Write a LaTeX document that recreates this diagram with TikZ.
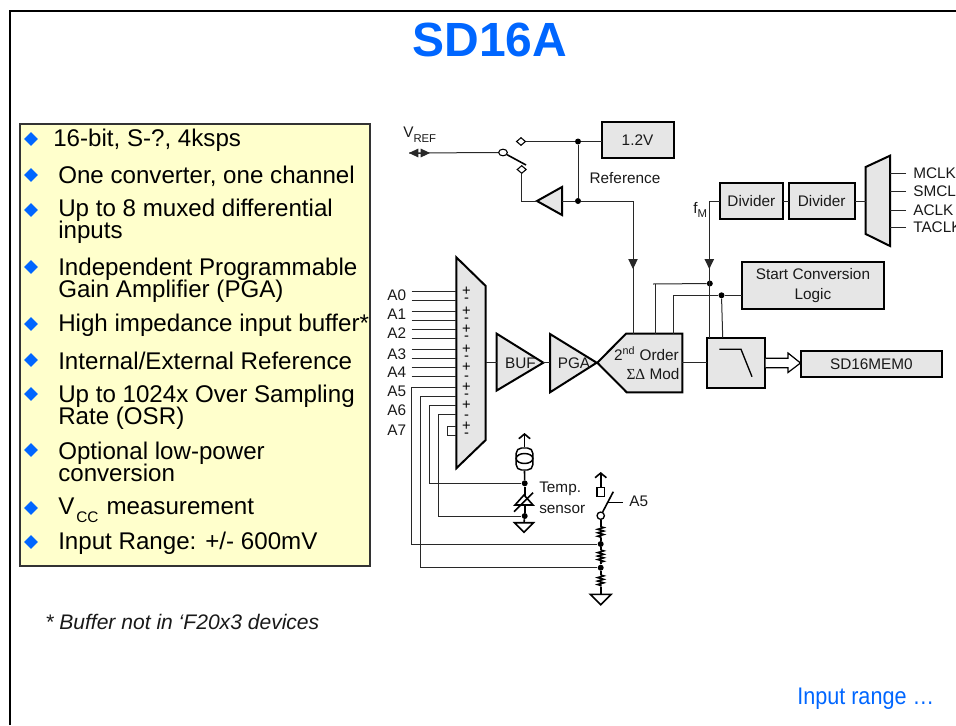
\documentclass[tikz,border=0pt]{standalone}
\usepackage{fontspec}
\setmainfont{Liberation Sans}
\newfontfamily\symfont{Liberation Serif}
\usetikzlibrary{positioning,arrows.meta,shapes.geometric,decorations.pathmorphing}
\definecolor{titleblue}{RGB}{0,102,255}
\definecolor{notecolor}{RGB}{255,255,204}
\definecolor{blockcolor}{RGB}{230,230,230}
\definecolor{wirecolor}{RGB}{40,40,40}
\definecolor{inkcolor}{RGB}{25,25,25}
\def\tightlines{\setlength{\lineskiplimit}{-20pt}}

\begin{document}
\begin{tikzpicture}[
  x=0.75pt,y=-0.75pt,
  wire/.style={line width=0.75pt,draw=wirecolor},
  thickwire/.style={line width=1.2pt,draw=black},
  block/.style={fill=blockcolor,draw=black,line width=1.5pt,outer sep=0pt,inner sep=0pt,align=center,font=\fontsize{11.5}{15}\selectfont,text=inkcolor},
  shapeblock/.style={fill=blockcolor,draw=black,line width=1.5pt,line join=miter},
  labelnode/.style={inner sep=0pt,font=\fontsize{11.5}{15}\selectfont,text=inkcolor},
  signnode/.style={inner sep=0pt,font=\fontsize{11}{11}\selectfont,text=black},
  featnode/.style={inner sep=0pt,anchor=west,align=left,font=\fontsize{18.1}{16.5}\selectfont\tightlines,text=black},
  bulletnode/.style={diamond,aspect=1,fill=titleblue,inner sep=0pt,minimum width=10.5pt,minimum height=10.5pt},
  dotnode/.style={circle,fill=black,inner sep=0pt,minimum size=4.5pt},
  contact/.style={diamond,aspect=1.2,draw=black,fill=white,line width=0.8pt,inner sep=0pt,minimum width=7pt,minimum height=6pt},
  pole/.style={ellipse,draw=black,fill=white,line width=0.8pt,inner sep=0pt,minimum width=6.5pt,minimum height=5pt},
  arr/.style={-{Triangle[length=7.5pt,width=7pt]},wire},
  chevron/.style={-{Straight Barb[length=3.5pt,width=8.5pt]},thickwire},
  res/.style={thickwire,decorate,decoration={zigzag,segment length=2.6pt,amplitude=2.2pt}},
]
\useasboundingbox (0,0) rectangle (956,725);

% Helper macros
\def\subtxt#1{\raisebox{-3.5pt}{\fontsize{8.5}{8.5}\selectfont #1}}
\def\groundsym#1#2#3#4{%
  % #1=name, #2=x, #3=top y, #4=half width
  \coordinate (#1) at (#2,#3);
  \draw[thickwire,fill=white,line join=miter] (#2-#4,#3) -- (#2+#4,#3) -- (#2,#3+#4) -- cycle;
}

% --- FRAME + TITLE ---
\draw[line width=1.6pt] (10,725) -- (10,11) -- (956,11);
\node[inner sep=0pt,font=\fontsize{36}{36}\bfseries\selectfont,text=titleblue] (title) at (490,40) {SD16A};

% --- FEATURE LIST ---
\node[fill=notecolor,draw=black!80,line width=1.4pt,inner sep=0pt,outer sep=0pt,minimum width=262.5pt,minimum height=331.5pt,anchor=north west] (notes) at (20,124) {};
\foreach \n/\y in {1/139,2/175,3/210,4/267,5/324,6/360,7/394,8/450,9/508,10/542} {
  \node[bulletnode] (bull\n) at (31,\y) {};
}
\node[featnode] (feat1) at (53,140) {16-bit, S-?, 4ksps};
\node[featnode] (feat2) at (58,176) {One converter, one channel};
\node[featnode] (feat3) at (58,221.5) {Up to 8 muxed differential\\inputs};
\node[featnode] (feat4) at (58,280) {Independent Programmable\\Gain Amplifier (PGA)};
\node[featnode] (feat5) at (58,325) {High impedance input buffer*};
\node[featnode] (feat6) at (58,361) {Internal/External Reference};
\node[featnode] (feat7) at (58,407) {Up to 1024x Over Sampling\\Rate (OSR)};
\node[featnode] (feat8) at (58,461.5) {Optional low-power\\conversion};
\node[featnode] (feat9) at (58,510) {V\kern1.5pt\raisebox{-6pt}{\fontsize{11.5}{11.5}\selectfont CC}\kern1pt\ measurement};
\node[featnode] (feat10) at (58,543) {Input Range: +/- 600mV};

\node[inner sep=0pt,anchor=west,font=\fontsize{15.8}{16}\itshape\selectfont,text=inkcolor] (foot) at (45,622) {* Buffer not in ‘F20x3 devices};
\node[inner sep=0pt,anchor=west,text=titleblue] (nextup) at (797,699) {\scalebox{0.9}[1]{\fontsize{18}{20}\selectfont Input range …}};

% --- REFERENCE ---
\node[block,minimum width=54pt,minimum height=27pt,anchor=north west] (ref) at (601.5,122) {1.2V};
\node[labelnode] (reflab) at (625,178) {Reference};
\node[labelnode,anchor=west] (vreflab) at (403,135) {V\subtxt{REF}};
\node[dotnode] (jtop) at (578,141.5) {};
\node[dotnode] (jbot) at (578,201) {};
\node[contact] (cup) at (521,141.5) {};
\node[contact] (cdn) at (521.7,169.5) {};
\node[pole] (swc) at (503,152.5) {};
\coordinate (vrefl) at (409,153);
\coordinate (vrefm) at (419.5,153);
\coordinate (vrefr) at (430,153);
\coordinate (lever) at (526,165);
\coordinate (refturn) at (633,201);
\coordinate (bufkneel) at (521.7,201);
\draw[shapeblock] (537,201) coordinate (rbuftip) -- (562,187) -- (562,215) -- cycle;
\coordinate (rbufin) at (562,201);
\draw[wire] (vrefl) -- (swc);
\draw[-{Triangle[length=7pt,width=6.5pt]},wire] (vrefm) -- (vrefl);
\draw[-{Triangle[length=7pt,width=6.5pt]},wire] (vrefm) -- (vrefr);
\draw[thickwire] (swc) -- (lever);
\draw[wire] (cup) -- (jtop) -- (ref.west |- jtop);
\draw[wire] (jtop) -- (jbot);
\draw[wire] (cdn) -- (bufkneel) -- (rbuftip);
\draw[wire] (rbufin) -- (jbot) -- (refturn);

% --- INPUT MUX ---
\draw[shapeblock] (456.3,257.3) -- (485.7,286) -- (485.7,440) -- (456.3,468.3) -- cycle;
\coordinate (muxout) at (485.7,362.7);
\foreach \n/\y in {0/295,1/314.7,2/332.7,3/354,4/372.3,5/391.7,6/410,7/430} {
  \node[labelnode,anchor=west] (lblA\n) at (387,\y) {A\n};
}
\foreach \n/\y in {0/291,1/300,2/311,3/320,4/329,5/338,6/349.3,7/358.3,8/367.3,9/376.3} {
  \coordinate (insrc\n) at (411.7,\y);
  \coordinate (indst\n) at (456.3,\y);
  \draw[wire] (insrc\n) -- (indst\n);
}
\foreach \s/\y in {+/291.7,-/300.7,+/311.7,-/320.7,+/329.3,-/338,+/349.3,-/358.7,+/367.3,-/378,+/387.3,-/396,+/405.3,-/417.3,+/426,-/435} {
  \node[signnode] at (466.5,\y) {\s};
}
\draw[wire] (456.3,426) -- (447.3,426) -- (447.3,435) -- (456.3,435);

% --- BUF, PGA, MODULATOR ---
\draw[shapeblock] (496.7,333.7) -- (543.3,362.7) -- (496.7,390.5) -- cycle;
\draw[shapeblock] (550,334) -- (596.7,362.7) -- (550,392.3) -- cycle;
\draw[shapeblock] (597.3,362.7) -- (626,333.7) -- (682.3,333.7) -- (682.3,392.3) -- (626.7,392.3) -- cycle;
\coordinate (bufin) at (496.7,362.7);
\coordinate (bufout) at (543.3,362.7);
\coordinate (pgain) at (550,362.7);
\coordinate (modout) at (682.3,362.7);
\coordinate (modref) at (633,333.7);
\coordinate (modclk) at (655.3,333.7);
\coordinate (modstart) at (673.3,333.7);
\node[labelnode] (buflab) at (520.5,363) {BUF};
\node[labelnode] (pgalab) at (574,363) {PGA};
\node[labelnode] (modlab1) at (646.5,353.5) {2\textsuperscript{nd} Order};
\node[labelnode] (modlab2) at (653,374) {{\symfont ΣΔ} Mod};
\draw[wire] (muxout) -- (bufin);
\draw[wire] (bufout) -- (pgain);
\draw[wire] (refturn) -- (modref);
\draw[arr] (refturn) -- (633,269);

% --- CLOCK PATH ---
\node[block,minimum width=47pt,minimum height=27pt,anchor=north west] (div1) at (720,183) {Divider};
\node[block,minimum width=49.5pt,minimum height=27pt,right=4.5pt of div1] (div2) {Divider};
\draw[shapeblock] (865.7,167) -- (890,155.7) -- (890,246) -- (865.7,234) -- cycle;
\coordinate (clkout) at (865.7,201);
\foreach \n/\y/\t in {1/173.7/MCLK,2/191.7/SMCLK,3/210/ACLK,4/227.7/TACLK} {
  \node[labelnode,anchor=west] (clk\n) at (913,\y) {\t};
  \coordinate (clksrc\n) at (906,\y);
  \draw[wire] (clksrc\n) -- (890,\y);
}
\draw[wire] (div1) -- (div2);
\draw[wire] (div2) -- (clkout);
\node[labelnode,anchor=west] (fmlab) at (693,210) {f\subtxt{M}};

% --- START CONVERSION + FILTER ---
\node[block,minimum width=106pt,minimum height=35.5pt,anchor=north west] (start) at (742.3,261.7) {Start Conversion\\Logic};
\node[block,minimum width=44pt,minimum height=38pt,anchor=north west] (filter) at (706.7,337.7) {};
\node[block,minimum width=106pt,minimum height=19pt,anchor=north west] (mem) at (800.7,351.3) {SD16MEM0};
\draw[line width=1pt] (719.3,349.3) -- (741,349.3) -- (752,376.7);
\coordinate (fmtop) at (709.3,201);
\coordinate (fmend) at (709.3,337.7);
\coordinate (clkstub) at (653,284);
\coordinate (clkknee) at (655.3,284);
\node[dotnode] (jclk) at (709.8,283.5) {};
\node[dotnode] (jstart) at (721.5,295.3) {};
\draw[wire] (div1) -- (fmtop);
\draw[wire] (fmtop) -- (fmend);
\draw[arr,line width=1pt] (fmtop) -- (709.3,269);
\draw[wire] (modclk) -- (clkknee);
\draw[wire] (clkstub) -- (jclk);
\draw[wire] (modstart) -- (673.3,295.3) -- (jstart) -- (start.west |- jstart);
\draw[wire] (jstart) -- (722.7,337.7);
\draw[wire] (modout) -- (filter.west |- modout);
\draw[line width=0.9pt,line join=miter,fill=white] (765.5,358.3) -- (788,358.3) -- (788,353) -- (800.5,363) -- (788,372.5) -- (788,367.7) -- (765.5,367.7);

% --- TEMP SENSOR ---
\node[draw=black,line width=1.1pt,rounded corners=4pt,inner sep=0pt,minimum width=12.5pt,minimum height=16.5pt] (csrc) at (524.5,459) {};
\node[ellipse,draw=black,line width=1.1pt,inner sep=0pt,minimum width=12.5pt,minimum height=7.5pt] (csrcin) at (524.5,458.5) {};
\node[dotnode] (jan) at (524.7,483.3) {};
\node[dotnode] (jcat) at (524.7,516) {};
\coordinate (csup) at (524.5,433);
\draw[chevron] (csrc.north) -- (csup);
\draw[thickwire] (csrc.south) -- (jan);
\draw[thickwire] (jan) -- (jcat);
\draw[thickwire,fill=white,line join=miter] (524,495) -- (515,505) -- (533,505) -- cycle;
\draw[thickwire] (514,511.7) -- (533,492.7);
\groundsym{gndt}{524}{522.7}{9.5}
\draw[thickwire] (jcat) -- (gndt);
\node[labelnode,anchor=west] (templab1) at (539,489) {Temp.};
\node[labelnode,anchor=west] (templab2) at (539,509) {sensor};
\draw[wire] (indst0 |- 414.7,414.7) -- (438.7,414.7) -- (438.7,516) -- (jcat);
\draw[wire] (indst0 |- 405.7,405.7) -- (429.7,405.7) -- (429.7,483.3) -- (jan);

% --- A5 DIVIDER ---
\node[pole,line width=1pt,minimum width=5.5pt,minimum height=5.5pt] (swa) at (600.7,515.7) {};
\node[draw=black,line width=1.1pt,fill=white,inner sep=0pt,minimum width=5.5pt,minimum height=6.5pt] (swb) at (600.7,492) {};
\node[labelnode,anchor=west] (a5lab) at (629,501.7) {A5};
\node[dotnode] (jr1) at (600.7,544) {};
\node[dotnode] (jr2) at (600.7,567.7) {};
\coordinate (a5up) at (600.7,472);
\coordinate (leverb) at (613.3,491.7);
\coordinate (markl) at (608.3,502.3);
\coordinate (markr) at (622.7,502.3);
\groundsym{gnda}{600.7}{594.3}{10.5}
\draw[chevron] (swb.north) -- (a5up);
\draw[thickwire] (swa) -- (leverb);
\draw[thickwire] (markl) -- (markr);
\foreach \a/\b/\ya/\yb in {swa/jr1/526.7/538.3,jr1/jr2/550/563.3,jr2/gnda/575/586.7} {
  \coordinate (ra) at (600.7,\ya);
  \coordinate (rb) at (600.7,\yb);
  \draw[thickwire] (\a) -- (ra);
  \draw[res] (ra) -- (rb);
  \draw[thickwire] (rb) -- (\b);
}
\draw[wire] (indst0 |- 387.3,387.3) -- (411.7,387.3) -- (411.7,544) -- (jr1);
\draw[wire] (indst0 |- 396.7,396.7) -- (420.7,396.7) -- (420.7,567.7) -- (jr2);

\end{tikzpicture}
\end{document}
